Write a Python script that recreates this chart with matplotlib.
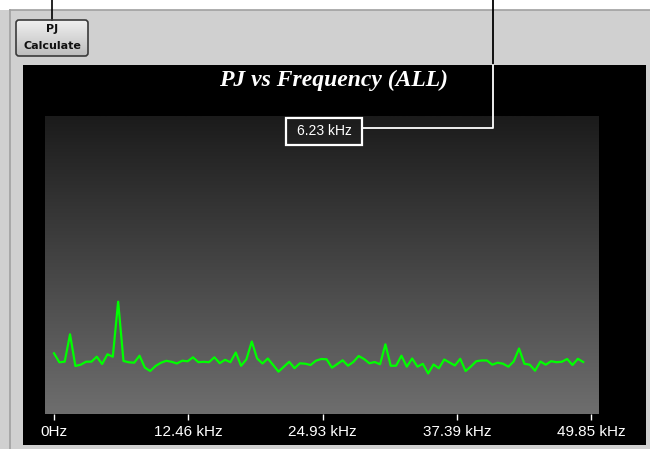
import matplotlib
matplotlib.use('Agg')
import matplotlib.pyplot as plt
import numpy as np
from matplotlib.colors import LinearSegmentedColormap
from matplotlib.patches import Rectangle, FancyBboxPatch

# PJ spectrum, one point every ~0.496 kHz
step_khz = 0.4962
pj = [6.07, 5.17, 5.23, 7.97, 4.80, 4.93, 5.23, 5.23, 5.73, 5.00,
      5.97, 5.73, 11.23, 5.30, 5.17, 5.13, 5.83, 4.63, 4.30, 4.80,
      5.12, 5.32, 5.22, 5.05, 5.33, 5.27, 5.67, 5.18, 5.22, 5.18,
      5.67, 5.08, 5.42, 5.18, 6.15, 4.82, 5.47, 7.25, 5.55, 5.05,
      5.55, 4.90, 4.23, 4.73, 5.22, 4.58, 5.07, 5.03, 4.90, 5.33,
      5.50, 5.47, 4.63, 5.00, 5.37, 4.83, 5.20, 5.80, 5.50, 5.07,
      5.20, 4.97, 6.97, 4.82, 4.83, 5.83, 4.73, 5.55, 4.73, 5.02,
      4.05, 4.95, 4.57, 5.45, 5.15, 4.85, 5.52, 4.30, 4.75, 5.28,
      5.35, 5.35, 4.93, 5.13, 5.03, 4.73, 5.25, 6.55, 5.02, 4.93,
      4.33, 5.25, 4.93, 5.28, 5.18, 5.22, 5.50, 4.90, 5.52, 5.20]
freq = np.arange(len(pj)) * step_khz

tick_vals = [0, 12.46, 24.93, 37.39, 49.85]
tick_labels = ['0Hz', '12.46 kHz', '24.93 kHz', '37.39 kHz', '49.85 kHz']
title = 'PJ vs Frequency (ALL)'
marker_text = '6.23 kHz'

W, H = 650, 449
fig = plt.figure(figsize=(W / 100, H / 100), dpi=100)
fig.patch.set_facecolor('#d0d0d0')

# background layer in pixel coordinates (window chrome)
bg = fig.add_axes([0, 0, 1, 1], zorder=0)
bg.set_xlim(0, W)
bg.set_ylim(H, 0)
bg.axis('off')
bg.add_patch(Rectangle((0, 0), W, 9.5, color='white', lw=0))
bg.plot([9.5, W], [10, 10], color='#a0a0a0', lw=1.2)
bg.plot([9.5, 9.5], [10, H], color='#a0a0a0', lw=1.2)
bg.add_patch(Rectangle((23, 65), 623, 380, color='black', lw=0))

grad = LinearSegmentedColormap.from_list('g', ['#1b1b1b', '#6e6e6e'])
bg.imshow(np.linspace(0, 1, 256).reshape(-1, 1), cmap=grad, aspect='auto',
          extent=[44.5, 598, 414, 116], origin='upper', zorder=1)

# button
btn = FancyBboxPatch((16, 20), 72, 36, boxstyle='round,pad=0,rounding_size=3',
                     fc='none', ec='#3a3a3a', lw=1.2, zorder=3)
bg.add_patch(btn)
bcm = LinearSegmentedColormap.from_list('b', ['#f0f0f0', '#bdbdbd'])
im = bg.imshow(np.linspace(0, 1, 64).reshape(-1, 1), cmap=bcm, aspect='auto',
               extent=[16, 88, 56, 20], origin='upper', zorder=2)
im.set_clip_path(btn)
bg.text(52, 29.5, 'PJ', ha='center', va='center', fontsize=8, fontweight='bold', color='#111111', zorder=4)
bg.text(52, 46, 'Calculate', ha='center', va='center', fontsize=8, fontweight='bold', color='#111111', zorder=4)
bg.plot([52, 52], [0, 20], color='black', lw=1.2)

bg.text(334, 80, title, ha='center', va='center', color='white', fontsize=17,
        family='Liberation Serif', fontweight='bold', fontstyle='italic')
bg.set_xlim(0, W)
bg.set_ylim(H, 0)

# plot
ax = fig.add_axes([44.5 / W, (H - 414) / H, 553.5 / W, 298 / H], zorder=1)
ax.patch.set_alpha(0)
ax.plot(freq, pj, color='#00ff00', lw=1.6)
ax.set_xlim(-0.882, 50.50)
ax.set_ylim(0, 29.8)
for s in ax.spines.values():
    s.set_visible(False)
ax.set_yticks([])
ax.set_xticks(tick_vals)
ax.set_xticklabels(tick_labels, family='Liberation Sans', fontsize=11)
ax.tick_params(axis='x', colors='white', length=4, width=1, pad=4)

# marker annotation on top
fg = fig.add_axes([0, 0, 1, 1], zorder=2)
fg.set_xlim(0, W)
fg.set_ylim(H, 0)
fg.axis('off')
fg.patch.set_alpha(0)
fg.plot([493, 493], [0, 65], color='black', lw=1.3)
fg.plot([493, 493, 362], [65, 128, 128], color='white', lw=1.3)
fg.add_patch(Rectangle((286, 117.5), 76, 27, fill=False, ec='white', lw=1.6))
fg.text(324, 131, marker_text, ha='center', va='center', color='white',
        family='Liberation Sans', fontsize=10)

fig.savefig('out.png', dpi=100, facecolor=fig.get_facecolor())
